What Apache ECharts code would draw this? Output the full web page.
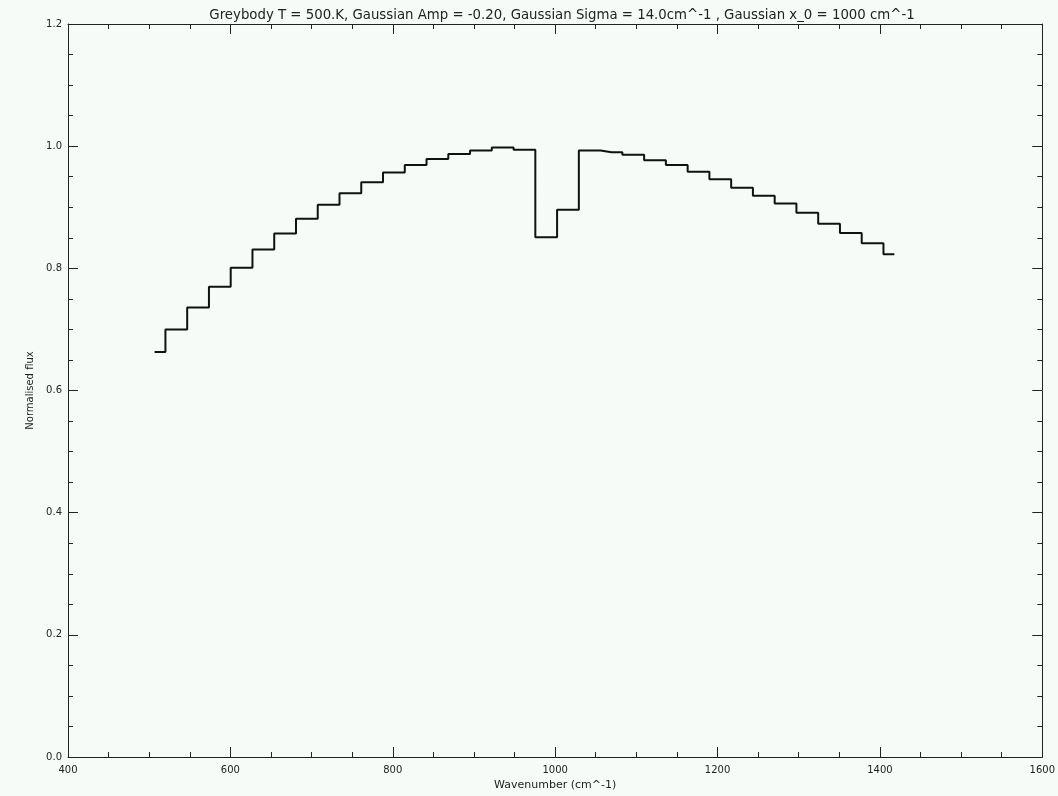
<!DOCTYPE html>
<html>
<head>
<meta charset="utf-8">
<style>
  html, body { margin: 0; padding: 0; background: #f6fbf8; }
  #chart { width: 1058px; height: 796px; }
</style>
<script src="https://cdn.jsdelivr.net/npm/echarts@6/dist/echarts.min.js"></script>
</head>
<body>
<div id="chart"></div>
<script>
// wavenumber of each bin (cm^-1)
var wavenumber = [506.6, 533.4, 560.2, 587.0, 613.8, 640.6, 667.4, 694.2, 721.0, 747.8,
    774.6, 801.4, 828.2, 855.0, 881.8, 908.6, 935.4, 962.2, 989.0, 1015.8,
    1042.6, 1069.4, 1096.2, 1123.0, 1149.8, 1176.6, 1203.4, 1230.2, 1257.0, 1283.8,
    1310.6, 1337.4, 1364.2, 1391.0, 1417.8]
// normalised flux
var flux = [0.663, 0.700, 0.736, 0.770, 0.801, 0.831, 0.857, 0.881, 0.904, 0.923,
    0.941, 0.957, 0.969, 0.979, 0.987, 0.993, 0.998, 0.994, 0.851, 0.896,
    0.993, 0.990, 0.986, 0.977, 0.969, 0.958, 0.946, 0.932, 0.919, 0.906,
    0.891, 0.873, 0.858, 0.841, 0.823]

var titleText = 'Greybody T = 500.K, Gaussian Amp = -0.20, Gaussian Sigma = 14.0cm^-1 , Gaussian x_0 = 1000 cm^-1'
var xName = 'Wavenumber (cm^-1)'
var yName = 'Normalised flux'

var ink = '#222'
var font = 'DejaVu Sans'

var points = []
for (var i = 0; i < wavenumber.length; i++) {
    points.push([wavenumber[i], flux[i]])
}

function boxAxis(base, extra) {
    var a = {
        min: base.min, max: base.max, interval: base.interval,
        axisLine: { show: true, onZero: false, lineStyle: { color: ink, width: 1 } },
        axisTick: { show: true, inside: true, length: 10, lineStyle: { color: ink } },
        minorTick: { show: true, splitNumber: 4, length: 5, lineStyle: { color: ink } },
        splitLine: { show: false },
        axisLabel: { show: false }
    }
    for (var k in extra) a[k] = extra[k]
    return a
}

var myChart = echarts.init(document.getElementById('chart'))
var option = {
    backgroundColor: '#f6fbf8',
    animation: false,
    title: {
        text: titleText,
        left: 557,
        textAlign: 'center',
        top: 4,
        textStyle: { fontFamily: font, fontSize: 13.3, fontWeight: 'normal', color: ink }
    },
    grid: { left: 68, right: 6, top: 24, bottom: 39 },
    xAxis: [
        boxAxis({ min: 400, max: 1600, interval: 200 }, {
            type: 'value', position: 'bottom',
            name: xName, nameLocation: 'middle', nameGap: 21,
            nameTextStyle: { fontFamily: font, fontSize: 11, color: ink },
            axisLabel: {
                show: true, margin: 8, fontFamily: font, fontSize: 10, color: ink,
                formatter: function (v) { return String(v) }
            }
        }),
        boxAxis({ min: 400, max: 1600, interval: 200 }, { type: 'value', position: 'top' })
    ],
    yAxis: [
        boxAxis({ min: 0, max: 1.2, interval: 0.2 }, {
            type: 'value', position: 'left',
            name: yName, nameLocation: 'middle', nameGap: 27, nameRotate: 90,
            nameTextStyle: { fontFamily: font, fontSize: 10, color: ink },
            axisLabel: {
                show: true, margin: 6, fontFamily: font, fontSize: 10, color: ink,
                formatter: function (v) { return v.toFixed(1) }
            }
        }),
        boxAxis({ min: 0, max: 1.2, interval: 0.2 }, { type: 'value', position: 'right' })
    ],
    series: [{
        type: 'line',
        step: 'middle',
        data: points,
        symbol: 'none',
        lineStyle: { color: '#111', width: 2 }
    }]
}
myChart.setOption(option)
</script>
</body>
</html>
